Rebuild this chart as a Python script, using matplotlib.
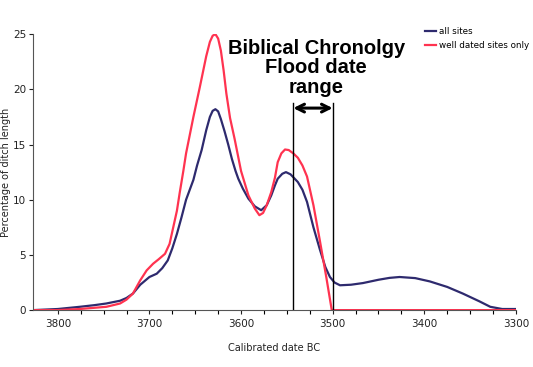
import matplotlib
matplotlib.use('Agg')
import matplotlib.pyplot as plt

# calibrated date BC and percentage of ditch length
years_all = [3827, 3800, 3776, 3760, 3747, 3732, 3725, 3718, 3710, 3700, 3692,
             3686, 3680, 3675, 3670, 3665, 3660, 3656, 3652, 3648, 3643, 3638,
             3634, 3631, 3628, 3625, 3622, 3618, 3614, 3610, 3606, 3603, 3598,
             3592, 3585, 3578, 3572, 3567, 3563, 3560, 3555, 3551, 3546, 3538,
             3533, 3528, 3521, 3514, 3508, 3503, 3498, 3492, 3480, 3467, 3450,
             3438, 3427, 3410, 3394, 3375, 3358, 3340, 3328, 3315, 3300]
pct_all = [0.0, 0.1, 0.3, 0.45, 0.6, 0.85, 1.1, 1.5, 2.3, 3.0, 3.3,
           3.8, 4.5, 5.6, 6.9, 8.4, 10.0, 10.9, 11.8, 13.1, 14.5, 16.3,
           17.5, 18.05, 18.2, 18.0, 17.3, 16.2, 15.0, 13.7, 12.6, 11.9, 11.0,
           10.1, 9.4, 9.05, 9.5, 10.4, 11.3, 11.9, 12.35, 12.5, 12.3, 11.6,
           10.9, 9.8, 7.5, 5.5, 3.9, 3.0, 2.5, 2.25, 2.3, 2.45, 2.75,
           2.92, 3.0, 2.9, 2.6, 2.1, 1.5, 0.8, 0.3, 0.1, 0.1]

years_well = [3827, 3800, 3776, 3747, 3732, 3725, 3718, 3710, 3703, 3696, 3690,
              3683, 3678, 3674, 3670, 3667, 3663, 3660, 3652, 3645, 3638, 3634,
              3631, 3628, 3625, 3622, 3619, 3616, 3612, 3607, 3600, 3592, 3585,
              3580, 3576, 3572, 3567, 3563, 3560, 3556, 3552, 3548, 3543, 3538,
              3533, 3528, 3521, 3514, 3507, 3501, 3480, 3400, 3300]
pct_well = [0.0, 0.0, 0.1, 0.3, 0.6, 0.95, 1.5, 2.7, 3.6, 4.2, 4.6,
            5.1, 6.0, 7.5, 9.0, 10.6, 12.6, 14.2, 17.5, 20.2, 23.0, 24.3,
            24.85, 25.0, 24.6, 23.5, 21.7, 19.6, 17.4, 15.5, 12.6, 10.4, 9.2,
            8.6, 8.8, 9.5, 10.7, 12.0, 13.4, 14.2, 14.55, 14.5, 14.2, 13.8,
            13.1, 12.1, 9.5, 6.3, 3.0, 0.0, 0.0, 0.0, 0.0]

flood_range = [3543, 3500]

fig = plt.figure(figsize=(5.33, 3.67), dpi=100)
ax = fig.add_axes([0.062, 0.155, 0.906, 0.752])

ax.plot(years_all, pct_all, color='#2e2a6e', lw=1.6, label='all sites')
ax.plot(years_well, pct_well, color='#ff3350', lw=1.6, label='well dated sites only')

# flood date range box
for yr in flood_range:
    ax.plot([yr, yr], [0, 18.75], color='black', lw=1)
ax.annotate('', xy=(flood_range[0], 18.3), xytext=(flood_range[1], 18.3),
            arrowprops=dict(arrowstyle='<->', color='black', lw=2.2,
                            mutation_scale=14, shrinkA=0, shrinkB=0))
ax.text(3518, 21.95, 'Biblical Chronolgy\nFlood date\nrange', ha='center', va='center',
        fontsize=14.5, fontweight='bold', family='Liberation Sans', linespacing=1.05)

ax.set_xlim(3827, 3300)
ax.set_ylim(0, 25)
ax.set_xticks([3800, 3700, 3600, 3500, 3400, 3300])
ax.set_xticks(list(range(3800, 3299, -25)), minor=True)
ax.set_yticks([0, 5, 10, 15, 20, 25])
ax.tick_params(labelsize=7.5, colors='#222222', length=3, width=0.8)
ax.tick_params(axis='y', pad=2)
ax.tick_params(which='minor', length=3, width=0.8)
for s in ['top', 'right']:
    ax.spines[s].set_visible(False)
for s in ['left', 'bottom']:
    ax.spines[s].set_color('#555555')
    ax.spines[s].set_linewidth(0.8)

ax.set_xlabel('Calibrated date BC', fontsize=7, color='#222222', labelpad=10)
ax.set_ylabel('Percentage of ditch length', fontsize=7, color='#222222')
ax.yaxis.set_label_coords(-0.046, 0.5)

fig.legend(loc='upper left', bbox_to_anchor=(0.79, 0.935), frameon=False,
           fontsize=6.3, handlelength=1.3, handletextpad=0.4, labelspacing=0.5,
           borderaxespad=0)

fig.savefig('out.png', dpi=100)
